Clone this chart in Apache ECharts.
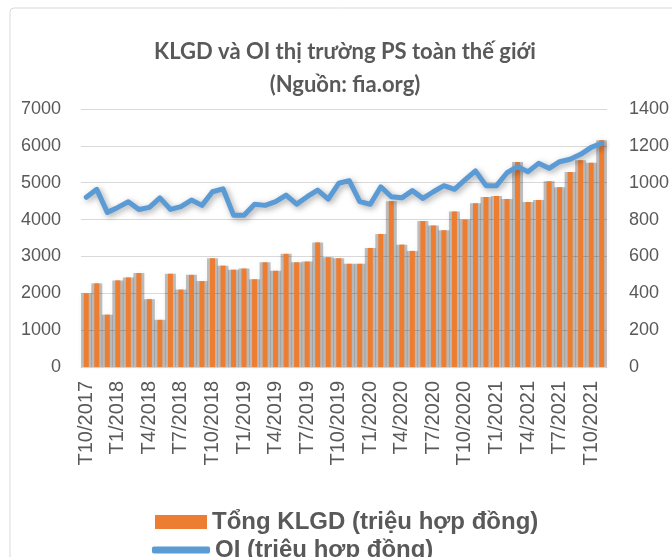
<!DOCTYPE html>
<html>
<head>
<meta charset="utf-8">
<script src="https://cdn.jsdelivr.net/npm/echarts@6/dist/echarts.min.js"></script>
<style>
  html, body { margin: 0; padding: 0; background: #fff; }
  #chart { width: 672px; height: 557px; }
</style>
</head>
<body>
<div id="chart"></div>
<script>
// thang T10/2017 -> T11/2021
var months = [
  'T10/2017', 'T11/2017', 'T12/2017',
  'T1/2018', 'T2/2018', 'T3/2018', 'T4/2018', 'T5/2018', 'T6/2018',
  'T7/2018', 'T8/2018', 'T9/2018', 'T10/2018', 'T11/2018', 'T12/2018',
  'T1/2019', 'T2/2019', 'T3/2019', 'T4/2019', 'T5/2019', 'T6/2019',
  'T7/2019', 'T8/2019', 'T9/2019', 'T10/2019', 'T11/2019', 'T12/2019',
  'T1/2020', 'T2/2020', 'T3/2020', 'T4/2020', 'T5/2020', 'T6/2020',
  'T7/2020', 'T8/2020', 'T9/2020', 'T10/2020', 'T11/2020', 'T12/2020',
  'T1/2021', 'T2/2021', 'T3/2021', 'T4/2021', 'T5/2021', 'T6/2021',
  'T7/2021', 'T8/2021', 'T9/2021', 'T10/2021', 'T11/2021'
];

// Tong KLGD (trieu hop dong)
var klgd = [
  2000, 2270, 1420, 2350, 2430, 2550, 1840, 1280, 2530,
  2100, 2500, 2330, 2950, 2750, 2640, 2670, 2380, 2840,
  2610, 3070, 2840, 2860, 3380, 2980, 2950, 2800, 2800,
  3230, 3610, 4500, 3320, 3150, 3960, 3840, 3710, 4220,
  4000, 4440, 4610, 4640, 4560, 5560, 4480, 4530, 5040,
  4880, 5290, 5610, 5540, 6150
];

// OI (trieu hop dong)
var oi = [
  921, 964, 839, 866, 897, 855, 866, 918, 855,
  870, 906, 877, 951, 967, 824, 823, 883, 877,
  897, 933, 884, 924, 960, 911, 997, 1011, 897,
  883, 978, 924, 918, 957, 915, 951, 984, 964,
  1015, 1064, 984, 984, 1054, 1087, 1060, 1105, 1078,
  1114, 1127, 1154, 1192, 1214
];

var leftTicks = [0, 7000, 1000];
var rightTicks = [0, 1400, 200];

var textColor = '#595959';
var plain = function (v) { return String(v); };

var myChart = echarts.init(document.getElementById('chart'));
myChart.setOption({
    animation: false,
    backgroundColor: '#fff',
    title: {
        text: 'KLGD và OI thị trường PS toàn thế giới\n(Nguồn: fia.org)',
        left: 340,
        textAlign: 'center',
        top: 30,
        textStyle: {
            fontFamily: 'Lato',
            fontWeight: 'bold',
            fontSize: 22,
            lineHeight: 33,
            color: textColor
        }
    },
    graphic: [{
        type: 'rect',
        shape: { x: 10, y: 8, width: 700, height: 600, r: 4 },
        style: { fill: 'none', stroke: '#d9d9d9', lineWidth: 1 },
        silent: true,
        z: -1
    }],
    legend: [{
        data: ['Tổng KLGD (triệu hợp đồng)'],
        left: 150,
        top: 505,
        icon: 'rect',
        itemWidth: 52,
        itemHeight: 14,
        textStyle: {
            fontFamily: 'Liberation Sans',
            fontWeight: 'bold',
            fontSize: 24,
            color: textColor
        }
    }, {
        data: ['OI (triệu hợp đồng)'],
        left: 147,
        top: 533,
        icon: 'roundRect',
        itemWidth: 58,
        itemHeight: 7,
        textStyle: {
            fontFamily: 'Liberation Sans',
            fontWeight: 'bold',
            fontSize: 24,
            color: textColor
        }
    }],
    grid: {
        left: 81,
        right: 64,
        top: 109,
        bottom: 190
    },
    xAxis: [{
        type: 'category',
        data: months,
        boundaryGap: true,
        axisLine: { lineStyle: { color: '#d9d9d9' } },
        axisTick: { show: false },
        axisLabel: {
            interval: 2,
            rotate: 90,
            margin: 14,
            fontFamily: 'Liberation Sans',
            fontSize: 20,
            color: textColor
        }
    }, {
        // truc an, chi de ve bong xam sau cot
        type: 'category',
        data: months,
        show: false
    }],
    yAxis: [{
        type: 'value',
        min: leftTicks[0],
        max: leftTicks[1],
        interval: leftTicks[2],
        axisLine: { show: false },
        axisTick: { show: false },
        splitLine: { lineStyle: { color: '#d9d9d9', width: 1 } },
        axisLabel: {
            margin: 20,
            formatter: plain,
            fontFamily: 'Liberation Sans',
            fontSize: 18,
            color: textColor
        }
    }, {
        type: 'value',
        min: rightTicks[0],
        max: rightTicks[1],
        interval: rightTicks[2],
        axisLine: { show: false },
        axisTick: { show: false },
        splitLine: { show: false },
        axisLabel: {
            margin: 22,
            formatter: plain,
            fontFamily: 'Liberation Sans',
            fontSize: 18,
            color: textColor
        }
    }],
    series: [{
        // bong xam
        name: 'shadow',
        type: 'bar',
        data: klgd,
        xAxisIndex: 1,
        yAxisIndex: 0,
        barWidth: 11,
        silent: true,
        z: 1,
        itemStyle: {
            color: 'rgba(0, 0, 0, 0.24)',
            shadowColor: 'rgba(0, 0, 0, 0.2)',
            shadowBlur: 5
        }
    }, {
        name: 'Tổng KLGD (triệu hợp đồng)',
        type: 'bar',
        data: klgd,
        xAxisIndex: 0,
        yAxisIndex: 0,
        barWidth: 5,
        z: 2,
        itemStyle: {
            color: '#ED7D31'
        }
    }, {
        name: 'OI (triệu hợp đồng)',
        type: 'line',
        data: oi,
        yAxisIndex: 1,
        showSymbol: false,
        symbol: 'none',
        z: 3,
        itemStyle: { color: '#5B9BD5' },
        lineStyle: {
            color: '#5B9BD5',
            width: 5,
            cap: 'round',
            join: 'round',
            shadowColor: 'rgba(0, 0, 0, 0.35)',
            shadowBlur: 6,
            shadowOffsetX: 2,
            shadowOffsetY: 2
        }
    }]
});
</script>
</body>
</html>
